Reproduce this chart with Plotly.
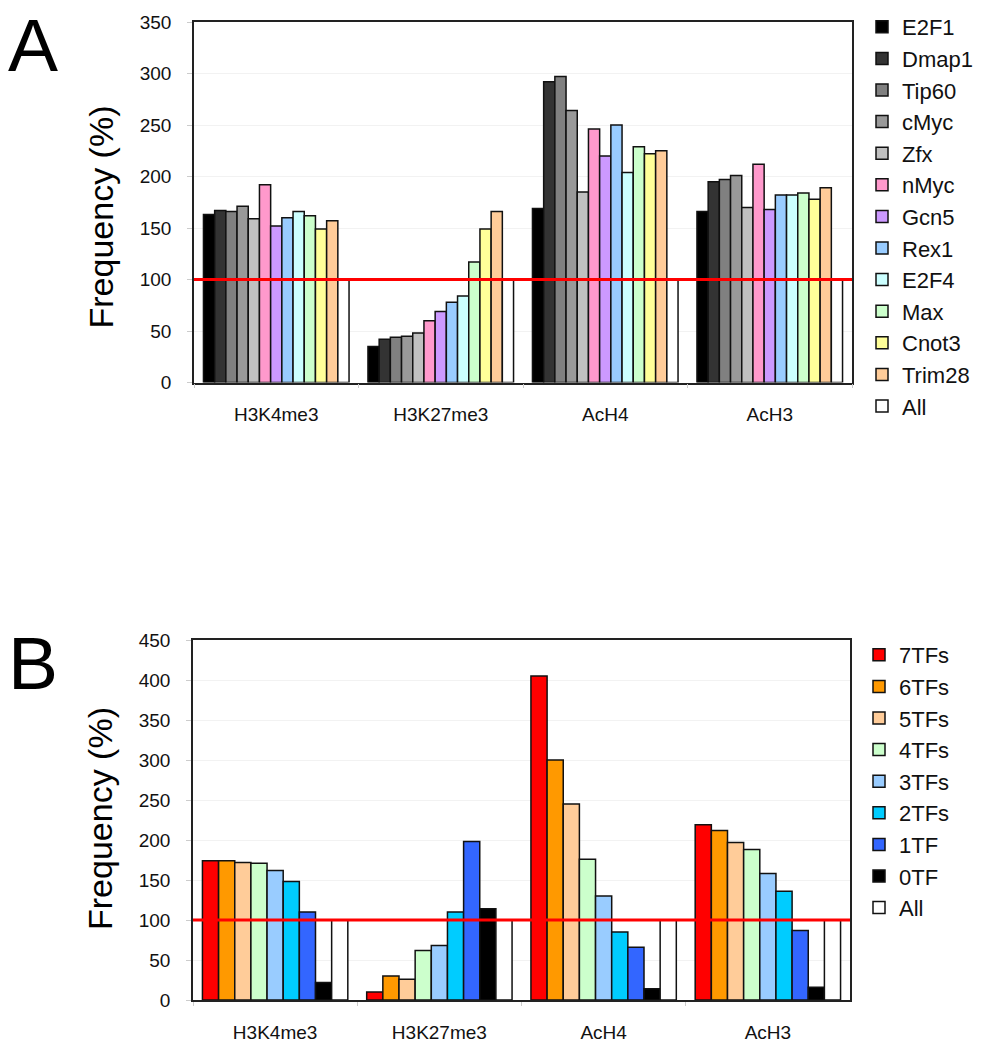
import plotly.graph_objects as go

categories = ["H3K4me3", "H3K27me3", "AcH4", "AcH3"]

# Panel A: per-factor frequencies (%), one list per series across the 4 categories
series_a = ["E2F1", "Dmap1", "Tip60", "cMyc", "Zfx", "nMyc", "Gcn5", "Rex1",
            "E2F4", "Max", "Cnot3", "Trim28", "All"]
E2F1 = [163, 35, 169, 166]
Dmap1 = [167, 42, 292, 195]
Tip60 = [166, 44, 297, 197]
cMyc = [171, 45, 264, 201]
Zfx = [159, 48, 185, 170]
nMyc = [192, 60, 246, 212]
Gcn5 = [152, 69, 220, 168]
Rex1 = [160, 78, 250, 182]
E2F4 = [166, 84, 204, 182]
Max = [162, 117, 229, 184]
Cnot3 = [149, 149, 222, 178]
Trim28 = [157, 166, 225, 189]
All_a = [100, 100, 100, 100]
values_a = [E2F1, Dmap1, Tip60, cMyc, Zfx, nMyc, Gcn5, Rex1, E2F4, Max, Cnot3, Trim28, All_a]
colors_a = ["#000000", "#333333", "#808080", "#999999", "#c0c0c0", "#ff99cc", "#cc99ff",
            "#99ccff", "#ccffff", "#ccffcc", "#ffff99", "#ffcc99", "#ffffff"]

# Panel B: frequencies (%) by number of bound TFs
series_b = ["7TFs", "6TFs", "5TFs", "4TFs", "3TFs", "2TFs", "1TF", "0TF", "All"]
TF7 = [174, 10, 405, 219]
TF6 = [174, 30, 300, 212]
TF5 = [172, 26, 245, 197]
TF4 = [171, 62, 176, 188]
TF3 = [162, 68, 130, 158]
TF2 = [148, 110, 85, 136]
TF1 = [110, 198, 66, 87]
TF0 = [22, 114, 14, 16]
All_b = [100, 100, 100, 100]
values_b = [TF7, TF6, TF5, TF4, TF3, TF2, TF1, TF0, All_b]
colors_b = ["#ff0000", "#ff9900", "#ffcc99", "#ccffcc", "#99ccff", "#00ccff",
            "#3366ff", "#000000", "#ffffff"]

reference_level = 100

W, H = 982, 1050
FONT = "Arial, Liberation Sans, sans-serif"

fig = go.Figure()

for name, vals, col in zip(series_a, values_a, colors_a):
    fig.add_trace(go.Bar(
        x=categories, y=vals, name=name, xaxis="x", yaxis="y",
        marker=dict(color=col, line=dict(color="#111111", width=1.5)),
        legend="legend", legendgroup="a_" + name,
    ))

for name, vals, col in zip(series_b, values_b, colors_b):
    fig.add_trace(go.Bar(
        x=categories, y=vals, name=name, xaxis="x2", yaxis="y2",
        marker=dict(color=col, line=dict(color="#111111", width=1.5)),
        legend="legend2", legendgroup="b_" + name,
    ))

axis_common = dict(
    showline=True, linecolor="#222222", linewidth=1.5, mirror=True,
)
xcommon = dict(axis_common, type="category", ticks="outside", tickson="boundaries",
               ticklen=4, tickcolor="#cccccc", showgrid=False,
               tickfont=dict(family=FONT, size=19, color="#111111"),
               ticklabelstandoff=14)
ycommon = dict(axis_common, ticks="outside", ticklen=5, tickcolor="#cccccc",
               showgrid=True, gridcolor="#f2f2f2", gridwidth=1, dtick=50,
               tickfont=dict(family=FONT, size=19, color="#111111"),
               ticklabelstandoff=12, zeroline=False)

fig.update_layout(
    width=W, height=H,
    margin=dict(l=0, r=0, t=0, b=0, autoexpand=False),
    paper_bgcolor="white", plot_bgcolor="white",
    barmode="group", bargap=0.115, bargroupgap=0,
    font=dict(family=FONT, color="#111111"),
    xaxis=dict(xcommon, domain=[194 / W, 852 / W], anchor="y"),
    yaxis=dict(ycommon, domain=[1 - 382.5 / H, 1 - 22 / H], range=[0, 350], anchor="x"),
    xaxis2=dict(xcommon, domain=[193 / W, 850 / W], anchor="y2"),
    yaxis2=dict(ycommon, domain=[1 - 1000 / H, 1 - 640 / H], range=[0, 450], anchor="x2"),
    legend=dict(x=862 / W, xanchor="left", y=1 - 6 / H, yanchor="top",
                font=dict(family=FONT, size=22, color="#111111"),
                traceorder="grouped", tracegroupgap=0, bgcolor="rgba(0,0,0,0)"),
    legend2=dict(x=859 / W, xanchor="left", y=1 - 634 / H, yanchor="top",
                 font=dict(family=FONT, size=22, color="#111111"),
                 traceorder="grouped", tracegroupgap=0, bgcolor="rgba(0,0,0,0)"),
)

for xr, yr in (("x", "y"), ("x2", "y2")):
    fig.add_shape(type="line", xref=xr + " domain", yref=yr, x0=0, x1=1,
                  y0=reference_level, y1=reference_level,
                  line=dict(color="#ff0000", width=3), layer="above")

annotations = [
    dict(text="Frequency (%)", x=100 / W, y=1 - 217.5 / H, textangle=-90, font_size=34),
    dict(text="Frequency (%)", x=100 / W, y=1 - 819 / H, textangle=-90, font_size=34),
    dict(text="A", x=32.5 / W, y=1 - 45 / H, font_size=75),
    dict(text="B", x=33 / W, y=1 - 663 / H, font_size=75),
]
for a in annotations:
    fig.add_annotation(xref="paper", yref="paper", showarrow=False,
                       xanchor="center", yanchor="middle",
                       font=dict(family=FONT, size=a.pop("font_size"), color="#000000"),
                       **a)

fig.write_html("out.html", config={"displayModeBar": False},
               post_script="document.body.style.margin='0px';document.body.style.overflow='hidden';")
